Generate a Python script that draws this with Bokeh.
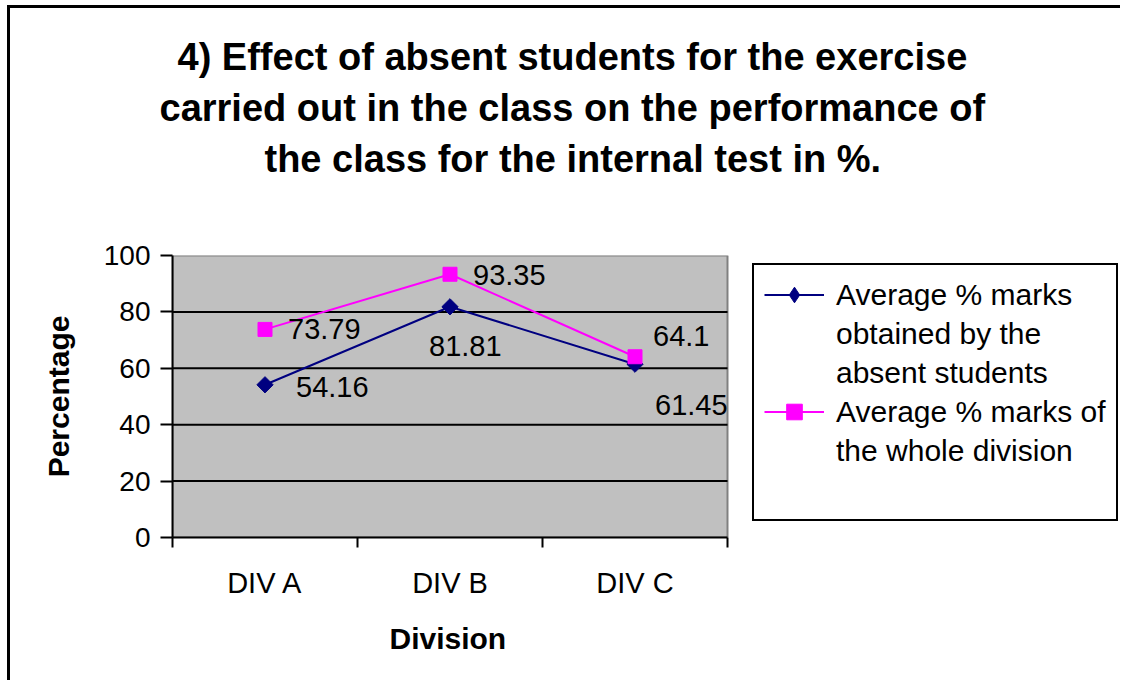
import math
from bokeh.plotting import figure
from bokeh.models import (FixedTicker, Legend, LegendItem, ColumnDataSource,
                          Range1d, Title, BoxAnnotation)
from bokeh.core.properties import value
from bokeh.embed import file_html
from bokeh.resources import INLINE

# ---- data ----
categories = ["DIV A", "DIV B", "DIV C"]
absent_avg = [54.16, 81.81, 61.45]
whole_avg = [73.79, 93.35, 64.1]
y_ticks = [0, 20, 40, 60, 80, 100]
legend_lines_absent = ["Average % marks", "obtained by the", "absent students"]
legend_lines_whole = ["Average % marks of", "the whole division"]
title_lines = ["4) Effect of absent students for the exercise",
               "carried out in the class on the performance of",
               "the class for the internal test in %."]
x_title = "Division"
y_title = "Percentage"

# label placement (screen px offsets), style only
absent_dx = [31, -21, 20]
absent_dy = [2, 39, 41]
whole_dx = [23, 23, 18]
whole_dy = [0, 1, -21]
title_offsets = [5, -13, 92]
x_title_offset = 217

FONT = "Liberation Sans"
NAVY = "#000080"
MAGENTA = "#FF00FF"
NCAT = len(categories)
xs = [i + 0.5 for i in range(NCAT)]

W, H = 1113, 675
ML, MT = 162, 247
PLOT_W, FRAME_W, FH = 555, 948, 282     # grey plot area width, full frame width
x_end = NCAT * FRAME_W / PLOT_W          # frame also hosts the legend on the right

p = figure(width=W, height=H, output_backend="svg", toolbar_location=None,
           x_range=Range1d(0, x_end), y_range=Range1d(0, 100),
           min_border_left=ML, min_border_top=MT,
           min_border_right=W - ML - FRAME_W, min_border_bottom=H - MT - FH)
p.styles = {"border-left": "3px solid black", "border-top": "3px solid black",
            "margin-left": "7px", "margin-top": "5px"}
p.background_fill_color = "white"
p.border_fill_color = "white"
p.outline_line_color = None

# grey plot area
p.add_layout(BoxAnnotation(left=0, right=NCAT, bottom=y_ticks[0], top=y_ticks[-1],
                           fill_color="#C0C0C0", fill_alpha=1,
                           line_color="#808080", line_width=2, line_alpha=1,
                           level="underlay"))

p.yaxis.ticker = FixedTicker(ticks=y_ticks)
p.yaxis.bounds = (y_ticks[0], y_ticks[-1])
p.yaxis.axis_line_color = "black"
p.yaxis.axis_line_width = 2
p.yaxis.major_tick_line_color = "black"
p.yaxis.major_tick_line_width = 2
p.yaxis.major_tick_out = 12
p.yaxis.major_tick_in = 0
p.yaxis.minor_tick_line_color = None
p.yaxis.major_label_standoff = 10
p.yaxis.major_label_text_font = FONT
p.yaxis.major_label_text_font_size = "28px"
p.yaxis.major_label_text_color = "black"
p.yaxis.axis_label = y_title
p.yaxis.axis_label_standoff = 26
p.yaxis.axis_label_text_font = FONT
p.yaxis.axis_label_text_font_size = "30px"
p.yaxis.axis_label_text_font_style = "bold"
p.yaxis.axis_label_text_color = "black"

p.xaxis.ticker = FixedTicker(ticks=xs, minor_ticks=list(range(NCAT + 1)))
p.xaxis.bounds = (0, NCAT)
p.xaxis.major_label_overrides = {x: c for x, c in zip(xs, categories)}
p.xaxis.axis_line_color = "black"
p.xaxis.axis_line_width = 2
p.xaxis.major_tick_out = 0
p.xaxis.major_tick_in = 0
p.xaxis.major_tick_line_color = None
p.xaxis.minor_tick_out = 10
p.xaxis.minor_tick_in = 0
p.xaxis.minor_tick_line_color = "black"
p.xaxis.minor_tick_line_width = 2
p.xaxis.major_label_standoff = 19
p.xaxis.major_label_text_font = FONT
p.xaxis.major_label_text_font_size = "29px"
p.xaxis.major_label_text_color = "black"

# x-axis title, centred under the grey plot area
p.add_layout(Title(text=x_title, align="left", offset=x_title_offset, standoff=36,
                   text_font=FONT, text_font_size="30px", text_font_style="bold",
                   text_color="black"), "below")

# horizontal gridlines restricted to the grey plot area
p.xgrid.grid_line_color = None
p.ygrid.grid_line_color = None
grid_y = y_ticks[1:-1]
p.segment(x0=[0] * len(grid_y), x1=[NCAT] * len(grid_y), y0=grid_y, y1=grid_y,
          line_color="black", line_width=2)

src_a = ColumnDataSource(dict(x=xs, y=absent_avg, t=[str(v) for v in absent_avg],
                              dx=absent_dx, dy=absent_dy))
src_w = ColumnDataSource(dict(x=xs, y=whole_avg, t=[str(v) for v in whole_avg],
                              dx=whole_dx, dy=whole_dy))

l1 = p.line("x", "y", source=src_a, line_color=NAVY, line_width=2)
# small diamond hidden under the rotated square: supplies the legend's diamond glyph
d1 = p.scatter("x", "y", source=src_a, marker="diamond", size=10,
               fill_color=NAVY, line_color=NAVY)
s1 = p.scatter("x", "y", source=src_a, marker="square", angle=math.pi / 4, size=11.5,
               fill_color=NAVY, line_color=NAVY)
l2 = p.line("x", "y", source=src_w, line_color=MAGENTA, line_width=2)
s2 = p.scatter("x", "y", source=src_w, marker="square", size=14,
               fill_color=MAGENTA, line_color=MAGENTA)

for src in (src_a, src_w):
    p.text("x", "y", text="t", source=src, x_offset="dx", y_offset="dy",
           text_align="left", text_baseline="middle",
           text_font=value(FONT), text_font_size="29px", text_color="black")

blank = p.line("x", "y", source=src_a, line_alpha=0)

# title (stacked Titles; the first added sits nearest to the plot area)
p.add_layout(Title(text=" ", text_font_size="50px", standoff=14), "above")
for line, off in reversed(list(zip(title_lines, title_offsets))):
    p.add_layout(Title(text=line, align="left", offset=off, standoff=7,
                       text_font=FONT, text_font_size="38px", text_font_style="bold",
                       text_color="black"), "above")

items = [LegendItem(label=legend_lines_absent[0], renderers=[l1, d1])]
items += [LegendItem(label=t, renderers=[blank]) for t in legend_lines_absent[1:]]
items += [LegendItem(label=legend_lines_whole[0], renderers=[l2, s2])]
items += [LegendItem(label=t, renderers=[blank]) for t in legend_lines_whole[1:]]
items += [LegendItem(label=" ", renderers=[blank])]

legend = Legend(items=items, location=(PLOT_W + 25, 16))
legend.border_line_color = "black"
legend.border_line_width = 2
legend.border_line_alpha = 1
legend.background_fill_color = "white"
legend.background_fill_alpha = 1
legend.glyph_width = 60
legend.glyph_height = 39
legend.label_height = 39
legend.label_standoff = 12
legend.padding = 10
legend.spacing = 0
legend.margin = 0
legend.label_text_font = FONT
legend.label_text_font_size = "30px"
legend.label_text_color = "black"
p.add_layout(legend)

open("out.html", "w").write(file_html(p, INLINE))
